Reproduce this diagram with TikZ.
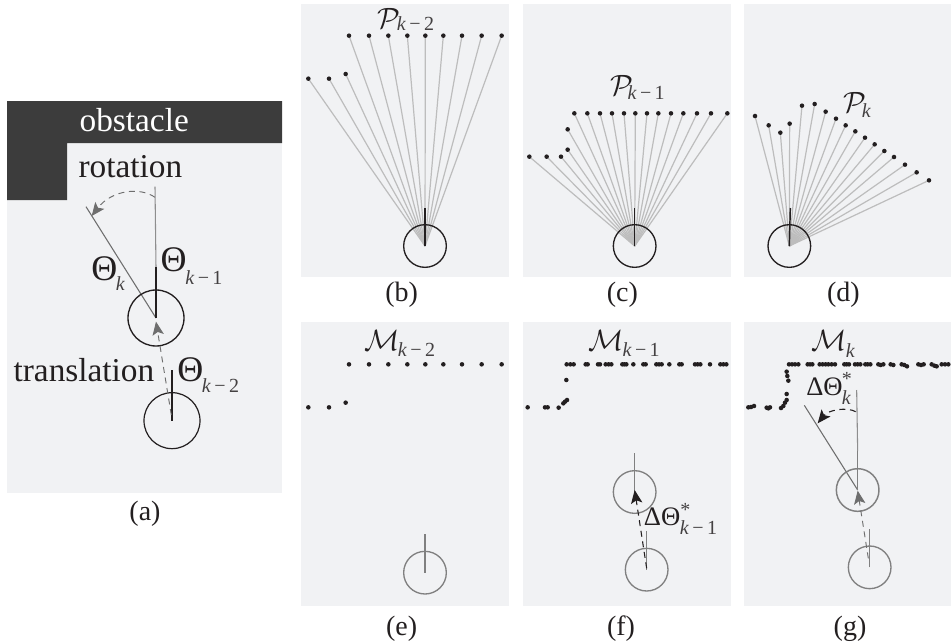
\documentclass[tikz,border=0pt]{standalone}
\usepackage{fontspec}
\setmainfont{Liberation Serif}
\usetikzlibrary{arrows.meta}
\definecolor{panelbg}{HTML}{F1F2F4}
\definecolor{obst}{HTML}{3C3C3C}
\definecolor{ink}{HTML}{231F20}
\definecolor{raygray}{HTML}{BDBDBD}
\definecolor{midgray}{HTML}{808080}
\definecolor{arrgray}{HTML}{6E6E6E}
\tikzset{
  panel/.style={fill=panelbg,draw=none},
  txt/.style={anchor=base west,inner sep=0pt,text=ink},
  bigtxt/.style={txt,font=\fontsize{25}{25}\selectfont},
  thetatxt/.style={txt,font=\fontsize{27}{27}\selectfont},
  midtxt/.style={txt,font=\fontsize{20}{20}\selectfont},
  subtxt/.style={txt,font=\fontsize{15}{15}\selectfont,text=ink!85},
  caltxt/.style={txt,scale=2.2},
  captxt/.style={anchor=base,inner sep=0pt,text=ink,font=\fontsize{21}{21}\selectfont},
  ray/.style={draw=raygray,line width=.9pt},
  ptdot/.style={fill=ink,draw=none},
  robotgray/.style={draw=midgray,line width=1pt},
  headblack/.style={draw=ink,line width=1.1pt},
  headgray/.style={draw=midgray,line width=.9pt},
  dasharrowgray/.style={draw=arrgray,line width=.7pt,dash pattern=on 4.5pt off 3.5pt,
    -{Stealth[length=10pt,width=8.5pt,inset=2.2pt]}},
  dasharrowblack/.style={draw=ink,line width=.8pt,dash pattern=on 4.5pt off 3.5pt,
    -{Stealth[length=10pt,width=8.5pt,inset=2.2pt]}},
}
\newcommand{\dotsat}[1]{\foreach \px/\py in {#1}{\fill[ptdot] (\px,\py) circle[radius=1.7pt];}}
\newcommand{\raysfrom}[2]{\foreach \px/\py in {#2}{\draw[ray] (#1) -- (\px,\py);}}
\newcommand{\kk}{\textit{k}}
\newcommand{\km}[1]{\textit{k}\,−\,#1}
\begin{document}
\begin{tikzpicture}[x=.75pt,y=-.75pt]
\useasboundingbox (0,0) rectangle (951,643);

% (a)
\fill[panel] (7,101) rectangle (282,493);
\fill[obst] (7,101) -- (282,101) -- (282,143) -- (67,143) -- (67,200) -- (7,200) -- cycle;
\begin{scope}[shift={(0,90)},x=.25pt,y=-.25pt]
  \coordinate (a1) at (468,684);
  \coordinate (a2) at (516,992);
  \coordinate (a1t) at (468,532);
  \coordinate (a1f) at (465,290);
  \coordinate (a1k) at (258,350);
  \coordinate (a2t) at (516,840);
  \coordinate (rs) at (465,322);
  \coordinate (re) at (275,378);
  \coordinate (ts) at (514,975);
  \coordinate (te) at (468,695);
  \draw[draw=raygray!75!black,line width=.8pt] (a1t) -- (a1f);
  \draw[draw=arrgray,line width=.8pt] (a1) -- (a1k);
  \draw[headblack] (a1) -- (a1t);
  \draw[headblack] (a2) -- (a2t);
  \node[draw=ink,line width=1pt,circle,minimum size=42pt,inner sep=0pt] (ca1) at (a1) {};
  \node[draw=ink,line width=.9pt,circle,minimum size=42pt,inner sep=0pt] (ca2) at (a2) {};
  \draw[dasharrowgray] (rs) .. controls (420,290) and (335,300) .. (re);
  \draw[dasharrowgray] (ts) -- (te);
  \node[bigtxt,text=white] (obsl) at (238,125) {obstacle};
  \node[bigtxt] (rotl) at (235,262) {rotation};
  \node[bigtxt] (trl) at (40,875) {translation};
  \node[thetatxt] (th1) at (273,570) {Θ};
  \node[subtxt] (th1s) at (347,600) {\kk};
  \node[thetatxt] (th2) at (481,545) {Θ};
  \node[subtxt] (th2s) at (555,583) {\km{1}};
  \node[thetatxt] (th3) at (531,875) {Θ};
  \node[subtxt] (th3s) at (605,908) {\km{2}};
  \node[captxt] (capa) at (435,1290) {(a)};
\end{scope}

% (b)
\fill[panel] (301,4) rectangle (509,277);
\begin{scope}[shift={(295,0)},x=.25pt,y=-.25pt]
  \coordinate (b) at (390,738);
  \raysfrom{b}{40/236,102/236,152/222,162/107,222/107,280/107,337/107,391/107,445/107,501/107,560/107,620/107}
  \dotsat{40/236,102/236,152/222,162/107,222/107,280/107,337/107,391/107,445/107,501/107,560/107,620/107}
  \coordinate (bt) at (390,624);
  \draw[headblack] (b) -- (bt);
  \node[draw=ink,line width=1pt,circle,minimum size=32pt,inner sep=0pt] (cb) at (b) {};
  \node[caltxt] (pb) at (245,85) {$\mathcal{P}$};
  \node[subtxt] (pbs) at (305,90) {\km{2}};
  \node[captxt] (capb) at (320,905) {(b)};
\end{scope}

% (c)
\fill[panel] (523,4) rectangle (731,277);
\begin{scope}[shift={(515,0)},x=.25pt,y=-.25pt]
  \coordinate (c) at (359,738);
  \raysfrom{c}{43/470,95/470,138/470,158/449,158/388,178/340,217/340,255/340,291/340,327/340,361/340,396/340,430/340,468/340,505/340,546/340,588/340,637/340}
  \dotsat{43/470,95/470,138/470,158/449,158/388,178/340,217/340,255/340,291/340,327/340,361/340,396/340,430/340,468/340,505/340,546/340,588/340,637/340}
  \coordinate (ct) at (359,624);
  \draw[headblack] (c) -- (ct);
  \node[draw=ink,line width=1pt,circle,minimum size=32pt,inner sep=0pt] (cc) at (c) {};
  \node[caltxt] (pc) at (285,285) {$\mathcal{P}$};
  \node[subtxt] (pcs) at (337,298) {\km{1}};
  \node[captxt] (capc) at (322,905) {(c)};
\end{scope}

% (d)
\fill[panel] (744,4) rectangle (951,277);
\begin{scope}[shift={(735,0)},x=.25pt,y=-.25pt]
  \coordinate (d) at (163,738);
  \raysfrom{d}{60/348,101/376,136/398,164/371,201/317,239/312,272/335,303/356,332/376,361/394,390/413,419/433,448/453,477/471,510/494,545/517,582/541}
  \dotsat{60/348,101/376,136/398,164/371,201/317,239/312,272/335,303/356,332/376,361/394,390/413,419/433,448/453,477/471,510/494,545/517,582/541}
  \coordinate (dt) at (166,624);
  \draw[headblack] (d) -- (dt);
  \node[draw=ink,line width=1pt,circle,minimum size=32pt,inner sep=0pt] (cd) at (d) {};
  \node[caltxt] (pd) at (325,336) {$\mathcal{P}$};
  \node[subtxt] (pds) at (380,352) {\kk};
  \node[captxt] (capd) at (325,905) {(d)};
\end{scope}

% (e)
\fill[panel] (301,322) rectangle (509,606);
\begin{scope}[shift={(295,320)},x=.25pt,y=-.25pt]
  \dotsat{40/262,102/262,152/248,162/133,222/133,280/133,337/133,391/133,445/133,501/133,560/133,620/133}
  \coordinate (e) at (390,758);
  \coordinate (et) at (390,643);
  \draw[headgray] (e) -- (et);
  \node[robotgray,circle,minimum size=32pt,inner sep=0pt] (ce) at (e) {};
  \node[caltxt] (me) at (208,90) {$\mathcal{M}$};
  \node[subtxt] (mes) at (308,110) {\km{2}};
  \node[captxt] (cape) at (320,945) {(e)};
\end{scope}

% (f)
\fill[panel] (523,322) rectangle (731,606);
\begin{scope}[shift={(515,320)},x=.25pt,y=-.25pt]
  \dotsat{38/262,90/262,98/262,131/263,145/250,150/245,156/240,154/180,155/133,166/133,176/133,212/133,218/133,249/133,255/133,272/133,281/133,289/133,322/133,328/133,334/133,355/133,385/133,392/133,424/133,432/133,440/133,463/133,493/133,500/133,540/133,548/133,556/133,585/133,616/133,625/133,634/133}
  \coordinate (f1) at (359,516);
  \coordinate (f2) at (395,749);
  \coordinate (f1t) at (359,400);
  \coordinate (f2t) at (395,632);
  \coordinate (fs) at (395,745);
  \coordinate (fe) at (359,510);
  \draw[headgray] (f1) -- (f1t);
  \draw[headgray] (f2) -- (f2t);
  \node[robotgray,circle,minimum size=32pt,inner sep=0pt] (cf1) at (f1) {};
  \node[robotgray,circle,minimum size=32pt,inner sep=0pt] (cf2) at (f2) {};
  \draw[dasharrowblack] (fs) -- (fe);
  \node[caltxt] (mf) at (220,90) {$\mathcal{M}$};
  \node[subtxt] (mfs) at (322,110) {\km{1}};
  \node[midtxt] (dtf) at (386,615) {ΔΘ};
  \node[subtxt] (sf) at (495,590) {*};
  \node[subtxt] (dfs) at (494,644) {\km{1}};
  \node[captxt] (capf) at (318,945) {(f)};
\end{scope}

% (g)
\fill[panel] (744,322) rectangle (951,606);
\begin{scope}[shift={(735,320)},x=.25pt,y=-.25pt]
  \dotsat{40/262,48/261,57/258,95/263,105/262,100/265,138/264,145/258,150/248,155/240,155/222,160/182,157/168,155/155,162/133,171/133,180/133,190/133,218/133,225/133,232/133,254/133,263/133,272/133,280/133,290/133,300/133,328/133,335/133,342/133,360/133,368/133,376/133,391/133,398/133,406/133,430/133,437/135,445/133,467/133,475/135,500/133,508/135,516/139,550/133,558/135,566/133,590/133,598/137,605/139,620/133,630/133,640/133}
  \coordinate (g1) at (368,510);
  \coordinate (g2) at (404,742);
  \coordinate (g1t) at (368,393);
  \coordinate (g1f) at (365,210);
  \coordinate (g1k) at (208,256);
  \coordinate (g2t) at (404,628);
  \coordinate (gas) at (362,275);
  \coordinate (gae) at (248,310);
  \coordinate (gts) at (400,715);
  \coordinate (gte) at (368,512);
  \draw[draw=raygray!75!black,line width=.8pt] (g1t) -- (g1f);
  \draw[draw=arrgray,line width=.8pt] (g1) -- (g1k);
  \draw[draw=midgray,line width=1.1pt] (g1) -- (g1t);
  \draw[headgray] (g2) -- (g2t);
  \node[draw=midgray,line width=1.1pt,circle,minimum size=32pt,inner sep=0pt] (cg1) at (g1) {};
  \node[robotgray,circle,minimum size=32pt,inner sep=0pt] (cg2) at (g2) {};
  \draw[dasharrowblack] (gas) .. controls (335,260) and (280,270) .. (gae);
  \draw[dasharrowgray] (gts) -- (gte);
  \node[caltxt] (mg) at (228,90) {$\mathcal{M}$};
  \node[subtxt] (mgs) at (332,112) {\kk};
  \node[midtxt] (dtg) at (213,227) {ΔΘ};
  \node[subtxt] (sg) at (320,196) {*};
  \node[subtxt] (dgs) at (320,254) {\kk};
  \node[captxt] (capg) at (345,945) {(g)};
\end{scope}
\end{tikzpicture}
\end{document}
